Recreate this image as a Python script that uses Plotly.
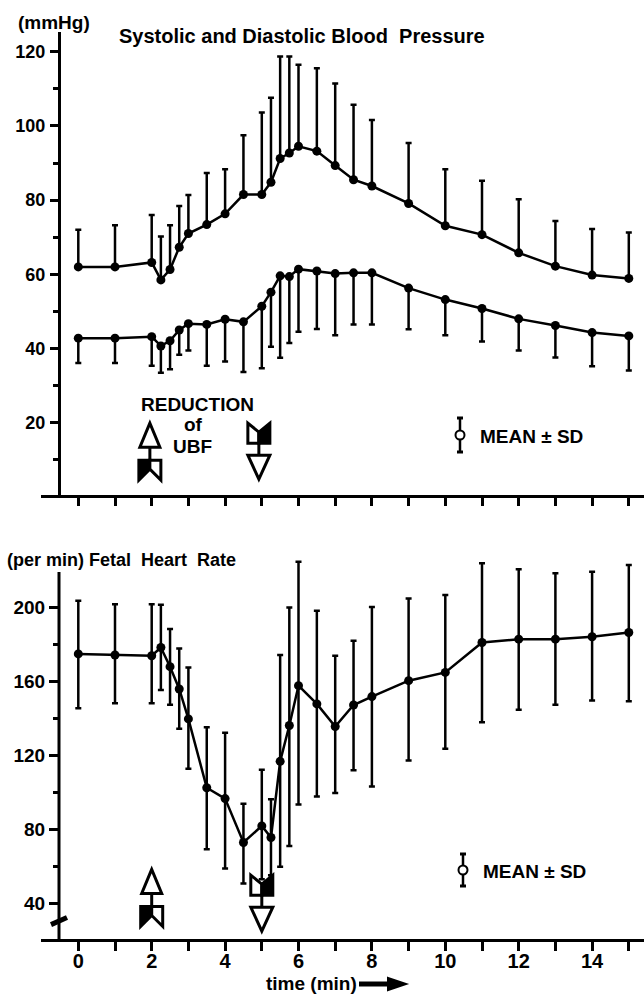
import numpy as np
import plotly.graph_objects as go

# ---------------- data ----------------
times = [0, 1, 2, 2.25, 2.5, 2.75, 3, 3.5, 4, 4.5, 5, 5.25, 5.5, 5.75, 6, 6.5, 7, 7.5, 8, 9, 10, 11, 12, 13, 14, 15]

systolic_mean = [62, 62, 63.2, 58.5, 61.3, 67.3, 71, 73.4, 76.3, 81.5, 81.5, 84.8, 91.2, 92.7, 94.5, 93.2,
                 89.3, 85.5, 83.8, 79.1, 73.1, 70.7, 65.8, 62.2, 59.8, 58.9]
systolic_upper = [72, 73.2, 76, 70.2, 73.2, 78.4, 81.4, 87.3, 88.3, 97.5, 103.6, 107.6, 118.7, 118.7, 116.5, 115.5,
                  111.4, 105.7, 101.6, 95.4, 88.3, 85.2, 80.2, 74.4, 72.2, 71.3]

diastolic_mean = [42.8, 42.8, 43.2, 40.7, 42.1, 45, 46.7, 46.5, 47.9, 47.2, 51.4, 55.2, 59.6, 59.4, 61.4, 60.9,
                  60.2, 60.4, 60.4, 56.3, 53.2, 50.8, 48, 46.2, 44.3, 43.4]
diastolic_lower = [36.1, 36.1, 35.4, 33.5, 34.4, 38.3, 39.5, 35.4, 36.5, 33.7, 34.7, 40.5, 37.5, 41.5, 44.5, 45.3,
                   43.6, 46.5, 46.5, 45.2, 43.6, 41.9, 39.5, 37.6, 35.2, 34.1]

fhr_mean = [175, 174.4, 174, 178.5, 168.1, 156, 139.8, 102.5, 96.6, 72.8, 81.8, 75.5, 116.8, 136.2, 157.8, 147.9,
            135.7, 147.3, 151.9, 160.5, 165, 181.2, 183, 183, 184.3, 186.6]
fhr_upper = [203.8, 202, 202, 201.6, 188.5, 178, 167.7, 135.3, 132.3, 93.8, 112.3, 96.2, 174.4, 200.2, 225, 198.4,
             174, 182.2, 200.5, 205, 207, 224.1, 220.9, 218.7, 219.6, 223.2]
fhr_lower = [145.5, 148.3, 148.3, 155.5, 147.4, 134.4, 112.8, 69.2, 58.7, 50.6, 52.9, 55.1, 59.6, 70.9, 93.4, 97.8,
             99.6, 111.9, 103.2, 117.3, 123.6, 138, 144.7, 147.4, 149.7, 149.3]

x_ticks = list(range(0, 16))
x_ticktext = [str(v) if v % 2 == 0 else "" for v in x_ticks]
bp_ticks = [20, 40, 60, 80, 100, 120]
bp_minor = [10, 30, 50, 70, 90, 110]
fhr_ticks = [40, 80, 120, 160, 200]
fhr_minor = [60, 100, 140, 180]

reduction_start = 2
reduction_end = 5

# ---------------- layout helpers ----------------
W, H = 644, 995
FONT = "Liberation Sans, Arial, sans-serif"


def px(x):
    return x / W


def py(y):
    return 1 - y / H


BLACK = "black"
xr = [(41 - 78.3) / 36.7, (644 - 78.3) / 36.7]

fig = go.Figure()

common_line = dict(color=BLACK, width=2.5)
common_marker = dict(color=BLACK, size=9)

s_mean = np.array(systolic_mean)
fig.add_trace(go.Scatter(
    x=times, y=systolic_mean, mode="lines+markers", line=common_line, marker=common_marker,
    error_y=dict(type="data", symmetric=False, array=(np.array(systolic_upper) - s_mean).tolist(),
                 arrayminus=[0] * len(times), color=BLACK, thickness=2.5, width=3),
    xaxis="x", yaxis="y", showlegend=False))

d_mean = np.array(diastolic_mean)
fig.add_trace(go.Scatter(
    x=times, y=diastolic_mean, mode="lines+markers", line=common_line, marker=common_marker,
    error_y=dict(type="data", symmetric=False, array=[0] * len(times),
                 arrayminus=(d_mean - np.array(diastolic_lower)).tolist(), color=BLACK, thickness=2.5, width=3),
    xaxis="x", yaxis="y", showlegend=False))

f_mean = np.array(fhr_mean)
fig.add_trace(go.Scatter(
    x=times, y=fhr_mean, mode="lines+markers", line=common_line, marker=common_marker,
    error_y=dict(type="data", symmetric=False, array=(np.array(fhr_upper) - f_mean).tolist(),
                 arrayminus=(f_mean - np.array(fhr_lower)).tolist(), color=BLACK, thickness=2.5, width=3),
    xaxis="x2", yaxis="y2", showlegend=False))

tickfont_top = dict(family=FONT, size=18, color=BLACK, weight="bold")
tickfont_bot = dict(family=FONT, size=19, color=BLACK, weight="bold")

fig.update_layout(
    width=W, height=H, margin=dict(l=0, r=0, t=0, b=0),
    paper_bgcolor="white", plot_bgcolor="white",
    xaxis=dict(domain=[px(41), 1], range=xr, anchor="y", showline=True, linewidth=3, linecolor=BLACK,
               ticks="outside", tickvals=x_ticks, ticklen=8, tickwidth=2.5, tickcolor=BLACK,
               showticklabels=False, showgrid=False, zeroline=False),
    yaxis=dict(domain=[py(495), py(32)], range=[0.54, 125.3], anchor="free", position=px(59),
               showline=True, linewidth=3, linecolor=BLACK, ticks="outside", tickvals=bp_ticks,
               ticklen=8, tickwidth=2.5, tickcolor=BLACK, tickfont=tickfont_top, ticklabelstandoff=1,
               minor=dict(tickvals=bp_minor, ticks="outside", ticklen=5, tickwidth=2.5, tickcolor=BLACK),
               showgrid=False, zeroline=False),
    xaxis2=dict(domain=[px(41), 1], range=xr, anchor="y2", showline=True, linewidth=3, linecolor=BLACK,
                ticks="outside", tickvals=x_ticks, ticktext=x_ticktext, ticklen=9, tickwidth=2.5,
                tickcolor=BLACK, tickfont=dict(family=FONT, size=20, color=BLACK, weight="bold"),
                ticklabelstandoff=-7, showgrid=False, zeroline=False),
    yaxis2=dict(domain=[py(939), py(558)], range=[20.5, 227], anchor="free", position=px(59),
                showline=False, ticks="outside", tickvals=fhr_ticks, ticklen=10, tickwidth=2.5,
                tickcolor=BLACK, tickfont=tickfont_bot, ticklabelstandoff=0,
                minor=dict(tickvals=fhr_minor, ticks="outside", ticklen=6, tickwidth=2.5, tickcolor=BLACK),
                showgrid=False, zeroline=False),
)

shapes = []
# bottom y axis line (stops below the top of the plotting region)
shapes.append(dict(type="line", xref="paper", yref="y2", x0=px(59), x1=px(59), y0=20.5, y1=219.4,
                   line=dict(color=BLACK, width=3)))
# axis break mark
shapes.append(dict(type="line", xref="paper", yref="y2", x0=px(51), x1=px(67), y0=28.3, y1=32.2,
                   line=dict(color=BLACK, width=5)))


def pix_path(path, xref, yref, xa, ya, fill="rgba(0,0,0,0)", width=3):
    return dict(type="path", xref=xref, yref=yref, xsizemode="pixel", ysizemode="pixel",
                xanchor=xa, yanchor=ya, path=path, fillcolor=fill,
                line=dict(color=BLACK, width=width), layer="above")


def up_arrow(xref, yref, xa, ya):
    return [
        pix_path("M0,0 L-10,-24 L10,-24 Z", xref, yref, xa, ya, fill="white"),
        pix_path("M0,-24 L0,-37", xref, yref, xa, ya),
        pix_path("M0,-37 L-11,-37 L-11,-57 L0,-46 Z", xref, yref, xa, ya, fill=BLACK),
        pix_path("M0,-37 L11,-37 L11,-57 L0,-46 Z", xref, yref, xa, ya, fill="white"),
    ]


def down_arrow(xref, yref, xa, ya):
    return [
        pix_path("M0,-20 L-11,-20 L-11,0 L0,-9 Z", xref, yref, xa, ya, fill="white"),
        pix_path("M0,-20 L11,-20 L11,0 L0,-9 Z", xref, yref, xa, ya, fill=BLACK),
        pix_path("M0,-20 L0,-32", xref, yref, xa, ya),
        pix_path("M-11,-32 L11,-32 L0,-56 Z", xref, yref, xa, ya, fill="white"),
    ]


shapes += up_arrow("x", "y", reduction_start - 0.05, 19.9)
shapes += down_arrow("x", "y", reduction_end - 0.08, 19.9)
shapes += up_arrow("x2", "y2", reduction_start, 58.2)
shapes += down_arrow("x2", "y2", reduction_end, 55.1)


def mean_sd_key(xref, yref, xa, ya, half):
    return [
        pix_path(f"M0,-{half} L0,{half}", xref, yref, xa, ya, width=2.5),
        pix_path(f"M-3,-{half} L3,-{half}", xref, yref, xa, ya, width=3),
        pix_path(f"M-3,{half} L3,{half}", xref, yref, xa, ya, width=3),
        dict(type="circle", xref=xref, yref=yref, xsizemode="pixel", ysizemode="pixel", xanchor=xa, yanchor=ya,
             x0=-4.5, x1=4.5, y0=-4.5, y1=4.5, fillcolor="white", line=dict(color=BLACK, width=2)),
    ]


shapes += mean_sd_key("paper", "paper", px(460), py(435), 17)
shapes += mean_sd_key("paper", "paper", px(463), py(870), 16)

# time arrow
shapes.append(dict(type="line", xref="paper", yref="paper", x0=px(359), x1=px(390), y0=py(984), y1=py(984),
                   line=dict(color=BLACK, width=5)))
shapes.append(pix_path("M0,6 L18,0 L0,-6 Z", "paper", "paper", px(388), py(984), fill=BLACK, width=2))

fig.update_layout(shapes=shapes)

NB = "\u00a0"


def ann(text, x, y, size, xanchor="left"):
    fig.add_annotation(text=text, x=px(x), y=py(y), xref="paper", yref="paper", xanchor=xanchor,
                       yanchor="middle", showarrow=False,
                       font=dict(family=FONT, size=size, color=BLACK, weight="bold"))


ann("(mmHg)", 16, 22, 19)
ann(f"Systolic and Diastolic Blood{NB}{NB}Pressure", 117, 36, 20)
ann(f"(per{NB}min) Fetal{NB}{NB}Heart{NB}{NB}Rate", 5, 560, 18)
ann("REDUCTION", 197, 404, 19, "center")
ann("of", 193, 425, 19, "center")
ann("UBF", 192, 446, 19, "center")
ann("MEAN ± SD", 478, 436, 19)
ann("MEAN ± SD", 481, 871, 19)
ann("time (min)", 264, 983, 19)

fig.write_html("out.html")
